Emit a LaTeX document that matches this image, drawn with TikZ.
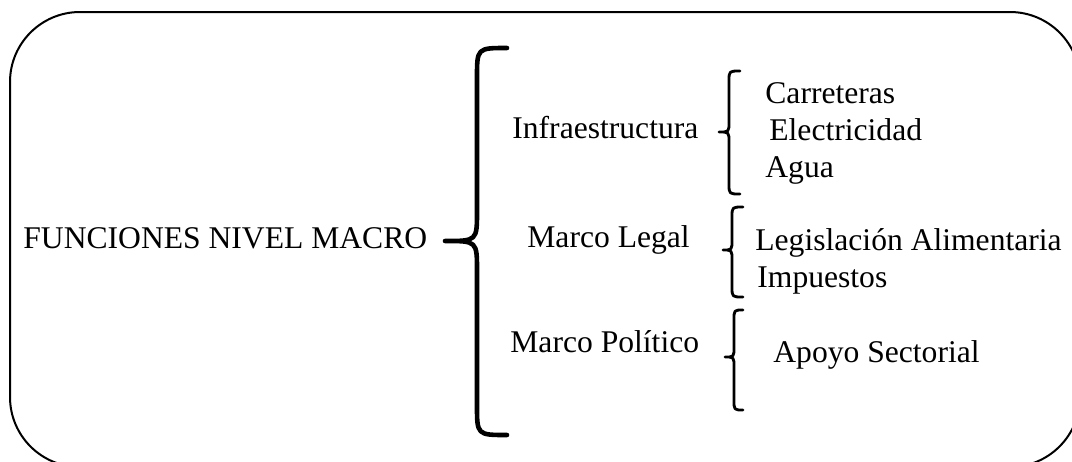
\documentclass[tikz,border=0pt]{standalone}
\usepackage{fontspec}
\setmainfont{Liberation Serif}
% curly brace opening to the left:
% #1 style, #2 end x, #3 stem x, #4 tip x, #5 top y, #6 middle y, #7 bottom y, #8 curl size
\newcommand\curlybrace[8]{%
  \draw[#1] (#2,#5) .. controls (#3,#5) .. (#3,{#5+#8})
    -- (#3,{#6-#8}) .. controls (#3,#6) .. (#4,#6)
    .. controls (#3,#6) .. (#3,{#6+#8})
    -- (#3,{#7-#8}) .. controls (#3,#7) .. (#2,#7);}
\begin{document}
\begin{tikzpicture}[x=0.5pt,y=-0.5pt,
  lbl/.style={anchor=base west,inner sep=0pt,font=\fontsize{15.8}{18}\selectfont},
  bigbrace/.style={line width=2.3pt,line cap=round,line join=round},
  smallbrace/.style={line width=1.4pt,line cap=round,line join=round}]
\useasboundingbox (0,0) rectangle (1072,461);
% outer frame, partly running past the page edge
\begin{scope}
  \clip (0,0) rectangle (1072,461);
  \draw[line width=1pt,rounded corners=35pt] (10,12) rectangle (1080,467);
\end{scope}

% labels
\node[lbl] (root)  at (23,248)    {FUNCIONES NIVEL MACRO};
\node[lbl] (infra) at (512,138.5) {Infraestructura};
\node[lbl] (legal) at (527,247)   {Marco Legal};
\node[lbl] (pol)   at (510,352.5) {Marco Político};
\node[lbl] (carr)  at (765,103)   {Carreteras};
\node[lbl] (elec)  at (769,140)   {Electricidad};
\node[lbl] (agua)  at (765,177)   {Agua};
\node[lbl] (legis) at (755,250)   {Legislación Alimentaria};
\node[lbl] (imp)   at (757,287)   {Impuestos};
\node[lbl] (apoyo) at (773,362)   {Apoyo Sectorial};

% braces
\curlybrace{bigbrace}{507}{477}{445}{48}{241}{435}{30}
\curlybrace{smallbrace}{740}{729}{719}{71}{132}{194}{10}
\curlybrace{smallbrace}{743}{732}{723}{207}{250}{297}{10}
\curlybrace{smallbrace}{743}{734}{725}{310}{357}{410}{10}
\end{tikzpicture}
\end{document}
